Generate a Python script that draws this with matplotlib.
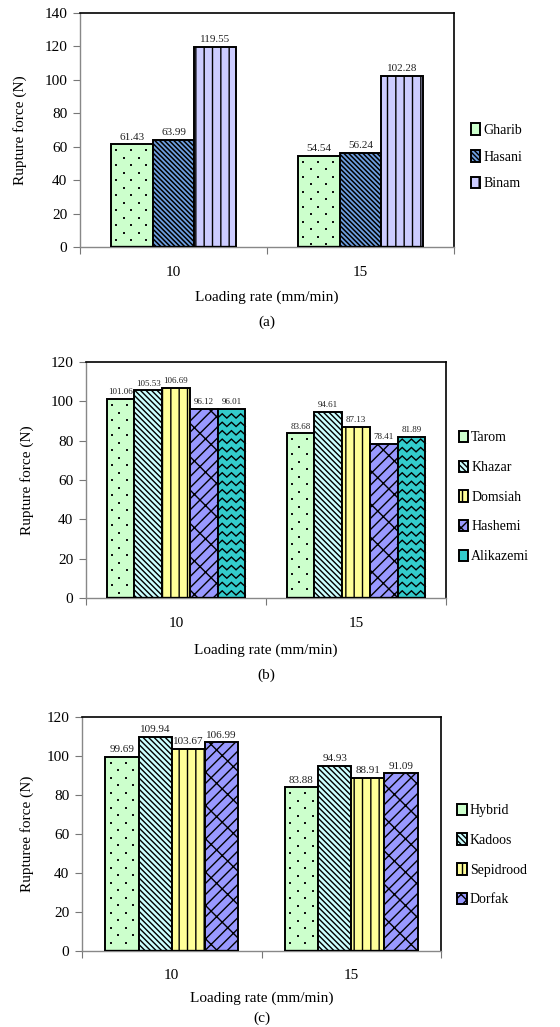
import numpy as np
import matplotlib
matplotlib.use("Agg")
import matplotlib.pyplot as plt
from matplotlib.lines import Line2D

plt.rcParams['font.family'] = ['Liberation Serif', 'DejaVu Serif']
plt.rcParams['hatch.linewidth'] = 1.0

# ---------------- data ----------------
rates = ['10', '15']

a_names = ['Gharib', 'Hasani', 'Binam']
a_gharib = [61.43, 54.54]
a_hasani = [63.99, 56.24]
a_binam = [119.55, 102.28]

b_names = ['Tarom', 'Khazar', 'Domsiah', 'Hashemi', 'Alikazemi']
b_tarom = [101.06, 83.68]
b_khazar = [105.53, 94.61]
b_domsiah = [106.69, 87.13]
b_hashemi = [96.12, 78.41]
b_alikazemi = [96.01, 81.89]

c_names = ['Hybrid', 'Kadoos', 'Sepidrood', 'Dorfak']
c_hybrid = [99.69, 83.88]
c_kadoos = [109.94, 94.93]
c_sepidrood = [103.67, 88.91]
c_dorfak = [106.99, 91.09]

W, H = 560, 1027
fig = plt.figure(figsize=(W / 100, H / 100), dpi=100)

BS = '\\'  # one backslash
BRICK = '///' + BS


def px_axes(left, right, top, bottom):
    ax = fig.add_axes([left / W, 1 - bottom / H, (right - left) / W, (bottom - top) / H])
    ax._px = (right - left, bottom - top)
    return ax


def zigzag(ax, bar, ystep, nper, amp):
    x0, w, h = bar.get_x(), bar.get_width(), bar.get_height()
    xs = np.linspace(x0, x0 + w, 2 * nper + 1)
    sign = np.where(np.arange(len(xs)) % 2 == 0, -1.0, 1.0)
    y = ystep * 0.6
    while y < h - amp:
        ys = np.clip(y + amp * sign, 0, h)
        ax.add_line(Line2D(xs, ys, color='black', lw=1.0, zorder=3.5,
                           solid_joinstyle='miter'))
        y += ystep


def dot_fill(ax, bar, ymax, dx=15.0, dy=7.5):
    wpx, hpx = ax._px
    ux = 2.0 / wpx
    uy = ymax / hpx
    x0, w, h = bar.get_x(), bar.get_width(), bar.get_height()
    xs_all, ys_all = [], []
    k = 0
    yy = h - dy * uy * 0.8
    while yy > dy * uy * 0.3:
        start = x0 + (0.35 if k % 2 == 0 else 0.85) * dx * ux
        xx = start
        while xx < x0 + w - 2.5 * ux:
            xs_all.append(xx)
            ys_all.append(yy)
            xx += dx * ux
        yy -= dy * uy
        k += 1
    ax.scatter(xs_all, ys_all, s=1.8, marker='s', color='#111111', linewidths=0, zorder=3.6)


def panel(ax, names, series, colors, hatches, hlws, ymax, group_w, lab_fs, ylabel,
          legend_xy, legend_sp, zig=None, dots=0):
    n = len(series)
    x = np.arange(len(rates))
    bw = group_w / n
    handles = []
    for i, (vals, col, hat, hlw) in enumerate(zip(series, colors, hatches, hlws)):
        pos = x - group_w / 2 + bw * (i + 0.5)
        with plt.rc_context({'hatch.linewidth': hlw}):
            bars = ax.bar(pos, vals, bw, color=col, edgecolor='black', linewidth=1.4,
                          hatch=hat, zorder=3, label=names[i])
        for p in bars:
            if hasattr(p, 'set_hatch_linewidth'):
                p.set_hatch_linewidth(hlw)
        handles.append(bars)
        for b, v in zip(bars, vals):
            ax.text(b.get_x() + b.get_width() / 2, v + ymax * 0.012, f'{v:.2f}',
                    ha='center', va='bottom', fontsize=lab_fs, color='#222222', zorder=5)
        if zig is not None and i == zig:
            for b in bars:
                zigzag(ax, b, ystep=ymax / 28, nper=3, amp=ymax / 110)
        if i == dots:
            for b in bars:
                dot_fill(ax, b, ymax)
    # thick base line under each group of bars
    ax.hlines([0] * len(x), x - group_w / 2, x + group_w / 2, color='black', lw=2.4, zorder=4)
    ax.set_xlim(-0.5, 1.5)
    ax.set_ylim(0, ymax)
    ax.set_yticks(np.arange(0, ymax + 1, 20))
    ax.set_xticks([-0.5, 0.5, 1.5])
    ax.set_xticklabels([])
    ax.set_xticks(x, minor=True)
    ax.set_xticklabels(rates, minor=True)
    ax.tick_params(axis='x', which='minor', length=0, pad=14, labelsize=11)
    ax.tick_params(axis='x', which='major', length=5, color='#777777', direction='out')
    ax.tick_params(axis='y', length=5, color='#777777', labelsize=11, pad=4)
    for s in ['left', 'bottom']:
        ax.spines[s].set_color('#888888')
        ax.spines[s].set_linewidth(1.0)
    for s in ['top', 'right']:
        ax.spines[s].set_color('black')
        ax.spines[s].set_linewidth(1.2)
    ax.set_ylabel(ylabel, fontsize=11)
    ax.legend(handles=handles, loc='center left', bbox_to_anchor=legend_xy,
              frameon=False, fontsize=10, handlelength=0.7, handleheight=0.9,
              handletextpad=0.2, labelspacing=legend_sp, borderaxespad=0)
    return ax


# ---------- (a) ----------
ax1 = px_axes(80, 454, 13, 247)
panel(ax1, a_names, [a_gharib, a_hasani, a_binam],
      ['#CCFFCC', '#6E9FE0', '#CCCCFF'], ['', BS * 7, '||'], [1.0, 1.1, 1.0],
      140, 0.67, 8, 'Rupture force (N)', (1.03, 0.385), 0.95)
ax1.yaxis.set_label_coords(-0.142, 0.5)
fig.text(0.5 * (80 + 454) / W, 1 - 297 / H, 'Loading rate (mm/min)',
         ha='center', va='center', fontsize=11)
fig.text(0.5 * (80 + 454) / W, 1 - 322 / H, '(a)', ha='center', va='center', fontsize=11)

# ---------- (b) ----------
ax2 = px_axes(86, 446, 362, 598)
panel(ax2, b_names, [b_tarom, b_khazar, b_domsiah, b_hashemi, b_alikazemi],
      ['#CCFFCC', '#CCFFFF', '#FFFF99', '#9999FF', '#33CCCC'],
      ['', BS * 6, '||', BRICK, ''], [1.0, 1.0, 1.0, 1.0, 1.0],
      120, 0.77, 6.5, 'Rupture force (N)', (1.02, 0.428), 1.16, zig=4)
ax2.yaxis.set_label_coords(-0.144, 0.5)
fig.text(0.5 * (86 + 446) / W, 1 - 650 / H, 'Loading rate (mm/min)',
         ha='center', va='center', fontsize=11)
fig.text(0.5 * (86 + 446) / W, 1 - 675 / H, '(b)', ha='center', va='center', fontsize=11)

# ---------- (c) ----------
ax3 = px_axes(82, 441, 717, 951)
panel(ax3, c_names, [c_hybrid, c_kadoos, c_sepidrood, c_dorfak],
      ['#CCFFCC', '#CCFFFF', '#FFFF99', '#9999FF'],
      ['', BS * 6, '||', BRICK], [1.0, 1.0, 1.0, 1.0],
      120, 0.74, 8, 'Rupturee force (N)', (1.03, 0.41), 1.16)
ax3.yaxis.set_label_coords(-0.134, 0.5)
ax3.tick_params(axis='x', which='minor', pad=13)
fig.text(0.5 * (82 + 441) / W, 1 - 998 / H, 'Loading rate (mm/min)',
         ha='center', va='center', fontsize=11)
fig.text(0.5 * (82 + 441) / W, 1 - 1018 / H, '(c)', ha='center', va='center', fontsize=11)

fig.savefig('out.png', dpi=100)
